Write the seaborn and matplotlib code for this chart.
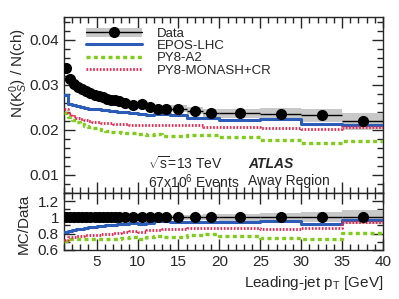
import numpy as np
import pandas as pd
import matplotlib
matplotlib.use("Agg")
import matplotlib.pyplot as plt
import seaborn as sns
from matplotlib.lines import Line2D
from matplotlib.patches import Patch
from matplotlib.ticker import MultipleLocator

# ---------------- data ----------------
bin_edges = [1, 1.5, 2, 2.5, 3, 3.5, 4, 4.5, 5, 5.5, 6, 6.5, 7, 7.5, 8,
             9, 10, 11, 12, 13, 14, 16, 18, 20, 25, 30, 35, 40]
data_vals = [0.0338, 0.0312, 0.0302, 0.0295, 0.0290, 0.0285, 0.0281, 0.0278,
             0.0275, 0.0272, 0.0269, 0.0267, 0.0265, 0.0263, 0.0260, 0.0255,
             0.0258, 0.0251, 0.0247, 0.0245, 0.0247, 0.0242, 0.0238, 0.0237,
             0.0236, 0.0232, 0.0219]
data_stat = [0.0003, 0.0002, 0.0002, 0.0002, 0.0002, 0.0002, 0.0002, 0.0002,
             0.0002, 0.0002, 0.0002, 0.0002, 0.0002, 0.0002, 0.0002, 0.0002,
             0.0002, 0.0002, 0.0002, 0.0002, 0.0002, 0.0002, 0.0003, 0.0003,
             0.0003, 0.0004, 0.0006]
data_syst = [0.0008, 0.0006, 0.0006, 0.0006, 0.0006, 0.0006, 0.0006, 0.0006,
             0.0006, 0.0006, 0.0006, 0.0006, 0.0006, 0.0006, 0.0006, 0.0006,
             0.0007, 0.0007, 0.0007, 0.0007, 0.0007, 0.0008, 0.0009, 0.0010,
             0.0013, 0.0014, 0.0019]
epos_vals = [0.0278, 0.0258, 0.0255, 0.0252, 0.0250, 0.0248, 0.0247, 0.0246,
             0.0245, 0.0244, 0.0243, 0.0242, 0.0241, 0.0240, 0.0239, 0.0238,
             0.0236, 0.0233, 0.0235, 0.0234, 0.0232, 0.0227, 0.0225, 0.0222,
             0.0224, 0.0213, 0.0211]
a2_vals = [0.0238, 0.0228, 0.0222, 0.0217, 0.0213, 0.0209, 0.0206, 0.0203,
           0.0201, 0.0199, 0.0198, 0.0196, 0.0195, 0.0194, 0.0193, 0.0192,
           0.0190, 0.0189, 0.0190, 0.0186, 0.0187, 0.0189, 0.0188, 0.0184,
           0.0177, 0.0170, 0.0176]
monash_vals = [0.0245, 0.0236, 0.0231, 0.0227, 0.0224, 0.0222, 0.0220, 0.0218,
               0.0217, 0.0216, 0.0215, 0.0214, 0.0213, 0.0212, 0.0212, 0.0211,
               0.0211, 0.0211, 0.0210, 0.0210, 0.0211, 0.0210, 0.0206, 0.0206,
               0.0203, 0.0202, 0.0206]

series_names = ["EPOS-LHC", "PY8-A2", "PY8-MONASH+CR"]
series_vals = [epos_vals, a2_vals, monash_vals]

# ---------------- style ----------------
sns.set_style("ticks")
plt.rcParams["font.family"] = ["Liberation Sans", "DejaVu Sans"]
plt.rcParams["mathtext.fontset"] = "custom"
plt.rcParams["mathtext.rm"] = "Liberation Sans"
plt.rcParams["mathtext.it"] = "Liberation Sans:italic"
plt.rcParams["xtick.direction"] = "in"
plt.rcParams["ytick.direction"] = "in"

colors = {"EPOS-LHC": "#2b5cb8", "PY8-A2": "#7fcc1c", "PY8-MONASH+CR": "#e6264e"}
dashes = {"EPOS-LHC": (None, None), "PY8-A2": (1.2, 1.0), "PY8-MONASH+CR": (0.6, 0.6)}
lws = {"EPOS-LHC": 2.2, "PY8-A2": 2.4, "PY8-MONASH+CR": 2.0}

edges = np.array(bin_edges)
centers = 0.5 * (edges[:-1] + edges[1:])
widths = np.diff(edges)
dv = np.array(data_vals)
dstat = np.array(data_stat)
dsyst = np.array(data_syst)

fig = plt.figure(figsize=(3.99, 2.99), dpi=100)
ax = fig.add_axes([0.160, 0.355, 0.800, 0.588])
axr = fig.add_axes([0.160, 0.164, 0.800, 0.191], sharex=ax)


def step_df(vals):
    v = list(vals) + [vals[-1]]
    return pd.DataFrame({"x": edges, "y": v})


def draw_panel(a, dvals, dsys, derr, mc_list):
    a.bar(centers, 2 * dsys, width=widths, bottom=dvals - dsys,
          color="#c8c8c8", edgecolor="none", zorder=1)
    for name, vals in mc_list:
        d = step_df(np.asarray(vals))
        sns.lineplot(data=d, x="x", y="y", ax=a, color=colors[name],
                     lw=lws[name], drawstyle="steps-post", zorder=3,
                     estimator=None, sort=False)
        ln = a.get_lines()[-1]
        if dashes[name][0] is not None:
            ln.set_dashes(dashes[name])
    a.errorbar(centers, dvals, xerr=widths / 2, yerr=derr, fmt="o",
               color="black", ms=7.0, lw=1.0, capsize=0, zorder=5)


draw_panel(ax, dv, dsyst, dstat, list(zip(series_names, series_vals)))
ratio_list = [(n, np.array(v) / dv) for n, v in zip(series_names, series_vals)]
draw_panel(axr, np.ones_like(dv), dsyst / dv, dstat / dv, ratio_list)

ax.set_xlim(1, 40)
ax.set_ylim(0.006, 0.045)
axr.set_ylim(0.6, 1.3)
ax.yaxis.set_minor_locator(MultipleLocator(0.002))
axr.yaxis.set_minor_locator(MultipleLocator(0.1))
axr.xaxis.set_major_locator(MultipleLocator(5))
axr.xaxis.set_minor_locator(MultipleLocator(1))
axr.set_yticks([0.6, 0.8, 1.0, 1.2])
axr.set_yticklabels(["0.6", "0.8", "1", "1.2"])
ax.set_yticks([0.01, 0.02, 0.03, 0.04])
ax.set_yticklabels(["0.01", "0.02", "0.03", "0.04"])

for a in (ax, axr):
    a.tick_params(which="both", direction="in", top=True, right=True,
                  labelsize=11, width=1.0)
    a.tick_params(which="major", length=8)
    a.tick_params(which="minor", length=4)
    for s in a.spines.values():
        s.set_linewidth(1.0)
plt.setp(ax.get_xticklabels(), visible=False)

ax.set_xlabel("")
axr.set_xlabel("")
ax.set_ylabel(r"N(K$^0_S$) / N(ch)", fontsize=11)
axr.set_ylabel("MC/Data", fontsize=11)
ax.yaxis.set_label_coords(-0.105, 0.68)
axr.yaxis.set_label_coords(-0.105, 0.45)
fig.text(0.960, 0.055, r"Leading-jet p$_\mathrm{T}$ [GeV]", ha="right",
         va="center", fontsize=11)

handles = [
    (Patch(facecolor="#c8c8c8", edgecolor="none"),
     Line2D([], [], color="black", marker="o", ms=7.0, lw=1.0)),
    Line2D([], [], color=colors["EPOS-LHC"], lw=lws["EPOS-LHC"]),
    Line2D([], [], color=colors["PY8-A2"], lw=lws["PY8-A2"], dashes=dashes["PY8-A2"]),
    Line2D([], [], color=colors["PY8-MONASH+CR"], lw=lws["PY8-MONASH+CR"],
           dashes=dashes["PY8-MONASH+CR"]),
]
labels = ["Data"] + series_names
ax.legend(handles, labels, loc="upper left", bbox_to_anchor=(0.045, 0.985),
          frameon=False, fontsize=9.5, handlelength=4.2, handletextpad=1.2,
          labelspacing=0.0, borderaxespad=0.2)

ax.text(0.263, 0.165, r"$\sqrt{\mathrm{s}}$=13 TeV", transform=ax.transAxes,
        fontsize=10, va="center")
ax.text(0.263, 0.065, r"67x10$^6$ Events", transform=ax.transAxes,
        fontsize=10, va="center")
ax.text(0.578, 0.165, "ATLAS", transform=ax.transAxes, fontsize=10,
        fontweight="bold", fontstyle="italic", va="center")
ax.text(0.578, 0.065, "Away Region", transform=ax.transAxes, fontsize=10,
        va="center")

fig.savefig("out.png", dpi=100)
